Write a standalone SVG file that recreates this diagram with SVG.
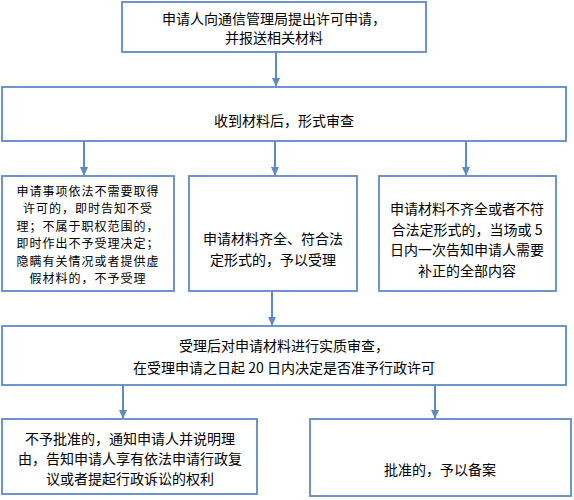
<svg xmlns="http://www.w3.org/2000/svg" width="574" height="500" viewBox="0 0 574 500">
<defs>
<style>
.box{fill:#ffffff;stroke:#5E8AC7;stroke-width:1.8}
.t{font-family:"Noto Sans CJK SC","Liberation Sans",sans-serif;font-size:14px;fill:#000;text-anchor:middle;dominant-baseline:central}
.s{font-size:12px;letter-spacing:1px}
.c{stroke:#5E8AC7;stroke-width:2;fill:none}
</style>
<marker id="ah" markerWidth="10" markerHeight="10" refX="8" refY="5" orient="auto" markerUnits="userSpaceOnUse">
<path d="M0,1 L9,5 L0,9 Z" fill="#5E8AC7"/>
</marker>
</defs>
<rect width="574" height="500" fill="#ffffff"/>
<g id="connectors">
<line class="c" x1="276" y1="52" x2="276" y2="86" marker-end="url(#ah)"/>
<line class="c" x1="84" y1="141" x2="84" y2="175" marker-end="url(#ah)"/>
<line class="c" x1="275" y1="141" x2="275" y2="175" marker-end="url(#ah)"/>
<line class="c" x1="466" y1="141" x2="466" y2="175" marker-end="url(#ah)"/>
<line class="c" x1="272" y1="291" x2="272" y2="325" marker-end="url(#ah)"/>
<line class="c" x1="123" y1="385" x2="123" y2="418" marker-end="url(#ah)"/>
<line class="c" x1="435" y1="385" x2="435" y2="418" marker-end="url(#ah)"/>
</g>
<g id="n1">
<rect class="box" x="122" y="2" width="304" height="50"/>
<text class="t" x="274" y="18">申请人向通信管理局提出许可申请，</text>
<text class="t" x="274" y="37">并报送相关材料</text>
</g>
<g id="n2">
<rect class="box" x="2" y="87" width="564" height="54"/>
<text class="t" x="284" y="120">收到材料后，形式审查</text>
</g>
<g id="n3">
<rect class="box" x="2" y="176" width="172" height="115"/>
<text class="t s" x="88" y="190">申请事项依法不需要取得</text>
<text class="t s" x="88" y="207.5">许可的，即时告知不受</text>
<text class="t s" x="88" y="225">理；不属于职权范围的，</text>
<text class="t s" x="88" y="242.5">即时作出不予受理决定；</text>
<text class="t s" x="88" y="260">隐瞒有关情况或者提供虚</text>
<text class="t s" x="88" y="277.5">假材料的，不予受理</text>
</g>
<g id="n4">
<rect class="box" x="189" y="176" width="168" height="115"/>
<text class="t" x="273" y="238">申请材料齐全、符合法</text>
<text class="t" x="273" y="259">定形式的，予以受理</text>
</g>
<g id="n5">
<rect class="box" x="379" y="176" width="177" height="115"/>
<text class="t" x="467" y="208">申请材料不齐全或者不符</text>
<text class="t" x="467" y="229">合法定形式的，当场或 5</text>
<text class="t" x="467" y="249">日内一次告知申请人需要</text>
<text class="t" x="467" y="270">补正的全部内容</text>
</g>
<g id="n6">
<rect class="box" x="2" y="326" width="564" height="59"/>
<text class="t" x="284" y="345">受理后对申请材料进行实质审查，</text>
<text class="t" x="284" y="367">在受理申请之日起 20 日内决定是否准予行政许可</text>
</g>
<g id="n7">
<rect class="box" x="2" y="419" width="255" height="75"/>
<text class="t" x="130" y="438">不予批准的，通知申请人并说明理</text>
<text class="t" x="130" y="458">由，告知申请人享有依法申请行政复</text>
<text class="t" x="130" y="478">议或者提起行政诉讼的权利</text>
</g>
<g id="n8">
<rect class="box" x="310" y="419" width="261" height="77"/>
<text class="t" x="440" y="469">批准的，予以备案</text>
</g>
</svg>
